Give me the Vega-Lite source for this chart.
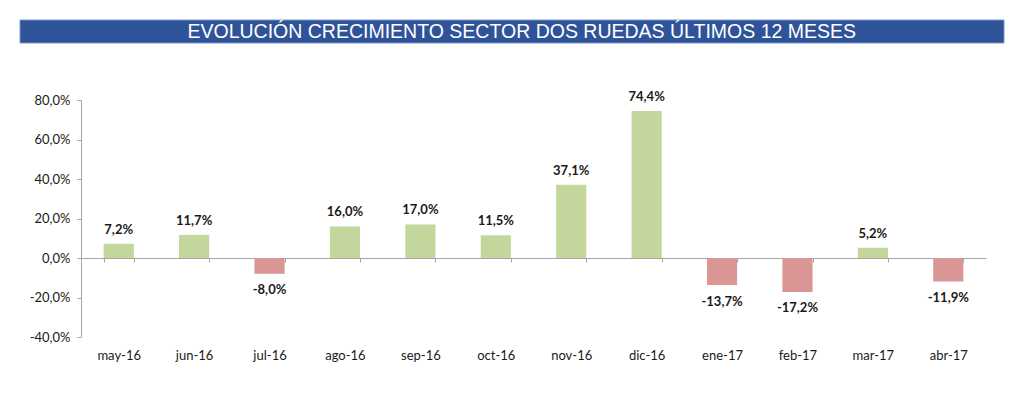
{
  "$schema": "https://vega.github.io/schema/vega-lite/v6.json",
  "padding": {"left": 19, "top": 19, "right": 0, "bottom": 0},
  "background": "white",
  "spacing": 47,
  "config": {
    "view": {"stroke": null},
    "font": "Lato",
    "locale": {"number": {"decimal": ",", "thousands": ".", "grouping": [3], "currency": ["", " €"], "minus": "-"}}
  },
  "vconcat": [
    {
      "width": 905,
      "height": 23,
      "data": {"values": [{"t": "EVOLUCIÓN CRECIMIENTO SECTOR DOS RUEDAS ÚLTIMOS 12 MESES"}]},
      "layer": [
        {
          "mark": {"type": "rect", "color": "#2F5399", "stroke": "#7d96c9", "strokeWidth": 1, "clip": false},
          "encoding": {
            "x": {"datum": -0.0674, "type": "quantitative", "scale": {"domain": [0, 1]}, "axis": null},
            "x2": {"datum": 1.0199},
            "y": {"datum": 0, "type": "quantitative", "scale": {"domain": [0, 1]}, "axis": null},
            "y2": {"datum": 1}
          }
        },
        {
          "mark": {"type": "text", "color": "white", "font": "Liberation Sans", "fontSize": 19.5, "baseline": "middle", "align": "center"},
          "encoding": {
            "text": {"field": "t"},
            "x": {"datum": 0.487, "type": "quantitative"},
            "y": {"datum": 0.5, "type": "quantitative"}
          }
        }
      ]
    },
    {
      "width": 905,
      "height": 237,
      "data": {"values": [
        {"mes": "may-16", "v": 0.072},
        {"mes": "jun-16", "v": 0.117},
        {"mes": "jul-16", "v": -0.080},
        {"mes": "ago-16", "v": 0.160},
        {"mes": "sep-16", "v": 0.170},
        {"mes": "oct-16", "v": 0.115},
        {"mes": "nov-16", "v": 0.371},
        {"mes": "dic-16", "v": 0.744},
        {"mes": "ene-17", "v": -0.137},
        {"mes": "feb-17", "v": -0.172},
        {"mes": "mar-17", "v": 0.052},
        {"mes": "abr-17", "v": -0.119}
      ]},
      "encoding": {
        "x": {
          "field": "mes", "type": "nominal", "sort": null,
          "scale": {"paddingInner": 0.6, "paddingOuter": 0.3},
          "axis": {
            "title": null, "labelAngle": 0, "domainColor": "#a6a6a6", "tickColor": "#a6a6a6",
            "tickSize": 4, "tickBand": "extent", "offset": -79, "labelPadding": 87,
            "labelFontSize": 13, "labelColor": "#1a1a1a", "labelFont": "Lato"
          }
        },
        "y": {
          "field": "v", "type": "quantitative",
          "scale": {"domain": [-0.4, 0.8], "nice": false},
          "axis": {
            "title": null, "values": [-0.4, -0.2, 0, 0.2, 0.4, 0.6, 0.8], "format": ".1%",
            "grid": false, "domainColor": "#a6a6a6", "tickColor": "#a6a6a6", "tickSize": 4,
            "labelPadding": 7, "labelFontSize": 13, "labelColor": "#1a1a1a", "labelFont": "Lato"
          }
        }
      },
      "layer": [
        {
          "mark": {"type": "bar"},
          "encoding": {
            "color": {"condition": {"test": "datum.v < 0", "value": "#D99694"}, "value": "#C3D69B"}
          }
        },
        {
          "transform": [{"filter": "datum.v >= 0"}],
          "mark": {"type": "text", "fontWeight": "bold", "fontSize": 13, "color": "#1a1a1a", "baseline": "middle", "dy": -14},
          "encoding": {"text": {"field": "v", "type": "quantitative", "format": ".1%"}}
        },
        {
          "transform": [{"filter": "datum.v < 0"}],
          "mark": {"type": "text", "fontWeight": "bold", "fontSize": 13, "color": "#1a1a1a", "baseline": "middle", "dy": 16.5},
          "encoding": {"text": {"field": "v", "type": "quantitative", "format": ".1%"}}
        }
      ]
    }
  ]
}
